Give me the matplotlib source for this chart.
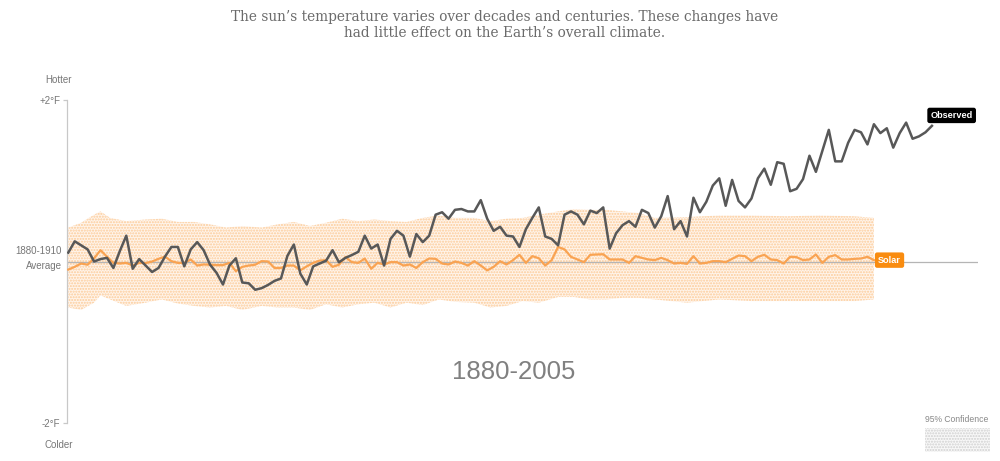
import numpy as np
import matplotlib
matplotlib.use("Agg")
import matplotlib.pyplot as plt
from matplotlib.patches import Rectangle

# observed temperature vs 1880-1910 average, deg F (1880-2014)
obs_start = 1880
observed = [
    0.11, 0.25, 0.20, 0.15, 0.00, 0.03, 0.045, -0.08, 0.13, 0.32,
    -0.09, 0.03, -0.05, -0.13, -0.08, 0.06, 0.18, 0.18, -0.06, 0.15,
    0.24, 0.14, -0.04, -0.14, -0.285, -0.05, 0.04, -0.26, -0.27, -0.35,
    -0.33, -0.29, -0.24, -0.21, 0.07, 0.21, -0.15, -0.285, -0.06, -0.025,
    0.01, 0.14, -0.01, 0.045, 0.08, 0.12, 0.32, 0.16, 0.21, -0.05,
    0.28, 0.38, 0.32, 0.06, 0.34, 0.24, 0.32, 0.58, 0.61, 0.53,
    0.64, 0.65, 0.62, 0.62, 0.76, 0.53, 0.38, 0.43, 0.32, 0.31,
    0.18, 0.40, 0.54, 0.67, 0.31, 0.28, 0.20, 0.58, 0.62, 0.58,
    0.46, 0.63, 0.60, 0.67, 0.16, 0.35, 0.45, 0.50, 0.43, 0.64,
    0.60, 0.42, 0.56, 0.81, 0.40, 0.50, 0.31, 0.79, 0.61, 0.74,
    0.94, 1.03, 0.69, 1.01, 0.75, 0.67, 0.78, 1.03, 1.15, 0.95,
    1.23, 1.21, 0.87, 0.90, 1.02, 1.31, 1.11, 1.37, 1.63, 1.24,
    1.24, 1.47, 1.63, 1.60, 1.45, 1.70, 1.59, 1.65, 1.41, 1.59,
    1.72, 1.52, 1.55, 1.60, 1.68,
]

# modelled solar contribution, deg F (1880-2005)
solar = [
    -0.10, -0.066, -0.025, -0.04, 0.04, 0.14, 0.06, -0.017, -0.025, -0.017,
    -0.05, -0.017, -0.02, 0.0, 0.033, 0.06, 0.004, -0.017, -0.017, 0.025,
    -0.05, -0.037, -0.04, -0.045, -0.045, -0.017, -0.12, -0.066, -0.05, -0.04,
    0.004, 0.0, -0.08, -0.08, -0.05, -0.05, -0.11, -0.06, -0.017, 0.012,
    0.017, -0.066, -0.04, 0.054, -0.008, -0.017, 0.037, -0.09, -0.017, -0.037,
    -0.008, -0.008, -0.05, -0.037, -0.08, -0.008, 0.037, 0.033, -0.025, -0.037,
    0.0, -0.017, -0.05, 0.004, -0.05, -0.11, -0.066, 0.004, -0.037, 0.017,
    0.083, -0.017, 0.066, 0.041, -0.05, 0.017, 0.18, 0.15, 0.058, 0.025,
    -0.008, 0.083, 0.087, 0.09, 0.025, 0.025, 0.025, -0.017, 0.066, 0.045,
    0.025, 0.017, 0.045, 0.017, -0.025, -0.017, -0.029, 0.066, -0.025, -0.017,
    0.004, 0.004, -0.008, 0.033, 0.074, 0.066, 0.004, 0.058, 0.083, 0.025,
    0.017, -0.025, 0.058, 0.054, 0.017, 0.025, 0.087, -0.017, 0.058, 0.079,
    0.025, 0.025, 0.033, 0.037, 0.058, 0.017,
]

# 95% confidence band edges, read every ~2.5 years
band_years = [1880, 1882, 1884, 1885, 1886.5, 1889, 1892, 1894.5, 1897, 1899.5,
              1902, 1904.5, 1907, 1910, 1912.5, 1915, 1917.5, 1920, 1922.5, 1925,
              1927.5, 1930, 1932.5, 1935, 1937.5, 1940, 1943, 1945.5, 1948, 1950.5,
              1953, 1956, 1958.5, 1961, 1963.5, 1966, 1968.5, 1971, 1976, 1981,
              1986, 1991.5, 1996.5, 2002, 2005]
band_upper = [0.42, 0.48, 0.58, 0.62, 0.54, 0.50, 0.52, 0.53, 0.49, 0.49,
              0.46, 0.42, 0.44, 0.42, 0.46, 0.49, 0.44, 0.48, 0.53, 0.50,
              0.52, 0.50, 0.49, 0.54, 0.57, 0.54, 0.54, 0.50, 0.53, 0.54,
              0.58, 0.62, 0.65, 0.64, 0.64, 0.62, 0.60, 0.54, 0.55, 0.57,
              0.57, 0.56, 0.57, 0.56, 0.54]
band_lower = [-0.57, -0.60, -0.51, -0.42, -0.47, -0.55, -0.51, -0.47, -0.52, -0.55,
              -0.57, -0.55, -0.60, -0.55, -0.57, -0.57, -0.60, -0.53, -0.57, -0.53,
              -0.51, -0.57, -0.51, -0.54, -0.47, -0.50, -0.51, -0.57, -0.55, -0.49,
              -0.51, -0.44, -0.44, -0.47, -0.47, -0.45, -0.45, -0.47, -0.51, -0.47,
              -0.49, -0.49, -0.49, -0.49, -0.47]

title = ("The sun\u2019s temperature varies over decades and centuries. These changes have\n"
         "had little effect on the Earth\u2019s overall climate.")

obs_years = np.arange(obs_start, obs_start + len(observed))
solar_years = np.arange(obs_start, obs_start + len(solar))

plt.rcParams['font.family'] = ['Liberation Sans', 'DejaVu Sans']

fig = plt.figure(figsize=(10, 4.61), dpi=100)
W, H = 1000, 461
ax = fig.add_axes([67 / W, (H - 423) / H, 911 / W, 323 / H])
ax.set_xlim(1879.8, 2021.15)
ax.set_ylim(-2, 2)

# confidence band (dotted)
ax.fill_between(band_years, band_lower, band_upper, facecolor='#fff4ea',
                edgecolor='#fccb98', hatch='......', linewidth=0, zorder=1)

ax.axhline(0, color='#b5b5b5', linewidth=0.9, zorder=2)
ax.plot(solar_years, solar, color='#f9a352', linewidth=1.6, zorder=3)
ax.plot(obs_years, observed, color='#585858', linewidth=1.8, zorder=4)

# end labels
ax.annotate('Observed', (obs_years[-1], observed[-1]), xytext=(-1, 7.5),
            textcoords='offset points', ha='left', va='center', fontsize=6.6,
            fontweight='bold', color='white', zorder=6,
            bbox=dict(boxstyle='round,pad=0.35,rounding_size=0.25', fc='black', ec='none'))
ax.annotate('Solar', (solar_years[-1], solar[-1]), xytext=(3, 0),
            textcoords='offset points', ha='left', va='center', fontsize=6.6,
            fontweight='bold', color='white', zorder=6,
            bbox=dict(boxstyle='round,pad=0.35,rounding_size=0.25', fc='#f98c10', ec='none'))

# axis styling
for s in ['top', 'right', 'bottom']:
    ax.spines[s].set_visible(False)
ax.spines['left'].set_color('#c8c8c8')
ax.spines['left'].set_linewidth(0.9)
ax.set_xticks([])
ax.set_yticks([2, -2])
ax.set_yticklabels(['+2\u00b0F', '-2\u00b0F'])
ax.tick_params(axis='y', length=3, width=0.9, color='#c8c8c8', labelsize=7,
               labelcolor='#777777', pad=2)
ax.set_facecolor('none')

ax.text(-0.006, 0.125, '1880-1910', transform=ax.get_yaxis_transform(), ha='right',
        va='center', fontsize=7, color='#777777')
ax.text(-0.006, -0.05, 'Average', transform=ax.get_yaxis_transform(), ha='right',
        va='center', fontsize=7, color='#777777')

fig.text(58 / W, 1 - 80 / H, 'Hotter', ha='center', va='center', fontsize=7, color='#777777')
fig.text(59 / W, 1 - 445 / H, 'Colder', ha='center', va='center', fontsize=7, color='#777777')

fig.text(514 / W, 1 - 372 / H, '1880-2005', ha='center', va='center',
         fontsize=18.5, color='#808080')

fig.text(0.505, 1 - 25 / H, title, ha='center', va='center', fontsize=11,
         color='#6b6b6b', family=['DejaVu Serif'], fontstretch='condensed',
         linespacing=1.2)

# confidence legend
fig.text(925 / W, 1 - 419 / H, '95% Confidence', ha='left', va='center', fontsize=6.2,
         color='#888888')
fig.patches.append(Rectangle((925 / W, 1 - 452 / H), 65 / W, 24 / H,
                             transform=fig.transFigure, facecolor='#f8f8f8',
                             edgecolor='#d0d0d0', hatch='......', linewidth=0))

fig.savefig('out.png', dpi=100)
